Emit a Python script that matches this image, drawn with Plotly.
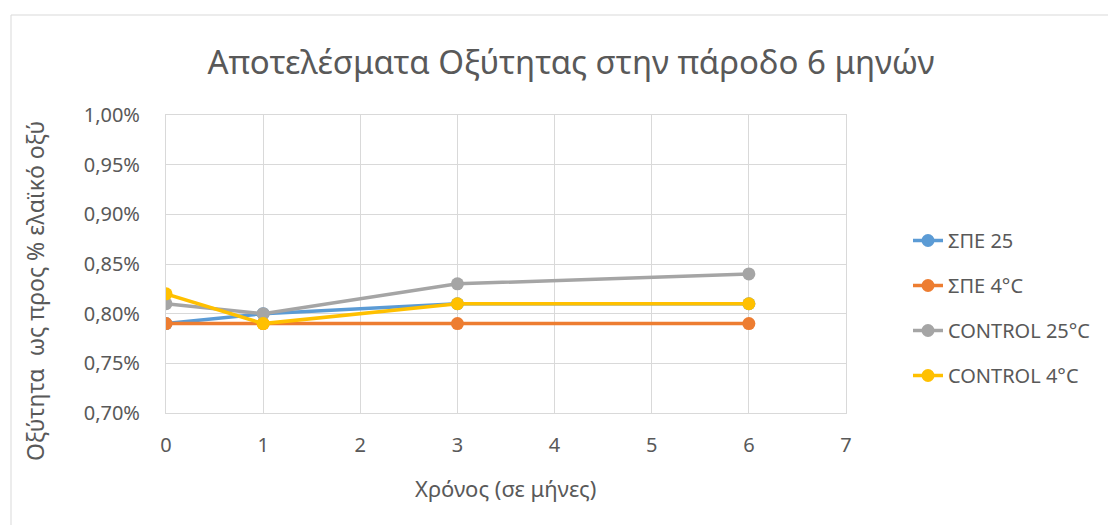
import plotly.graph_objects as go

# Acidity (% oleic acid) measured over six months of storage
months = [0, 1, 3, 6]
spe_25 = [0.79, 0.80, 0.81, 0.81]
spe_4c = [0.79, 0.79, 0.79, 0.79]
control_25c = [0.81, 0.80, 0.83, 0.84]
control_4c = [0.82, 0.79, 0.81, 0.81]

series_names = ["ΣΠΕ 25", "ΣΠΕ 4°C", "CONTROL 25°C", "CONTROL 4°C"]
series_values = [spe_25, spe_4c, control_25c, control_4c]
series_colors = ["#5B9BD5", "#ED7D31", "#A5A5A5", "#FFC000"]

x_ticks = [0, 1, 2, 3, 4, 5, 6, 7]
y_ticks = [0.70, 0.75, 0.80, 0.85, 0.90, 0.95, 1.00]
y_tick_text = ["0,70%", "0,75%", "0,80%", "0,85%", "0,90%", "0,95%", "1,00%"]

FONT = "Noto Sans"
TEXT = "#595959"
GRID = "#d9d9d9"

fig = go.Figure()
for i, (name, vals, col) in enumerate(zip(series_names, series_values, series_colors)):
    fig.add_trace(go.Scatter(
        x=months, y=vals, name=name, mode="lines+markers",
        line=dict(color=col, width=3.5),
        marker=dict(color=col, size=13),
        legendgroup=f"g{i}",
    ))

# plot area: x 166..846, y 115..413 in a 1108x525 canvas
L, R, T, B = 166, 1108 - 846, 115, 525 - 413
PW, PH = 846 - 166, 413 - 115

def px(xp):
    return (xp - L) / PW

def py(yp):
    return (413 - yp) / PH

fig.update_layout(
    width=1108, height=525,
    margin=dict(l=L, r=R, t=T, b=B, autoexpand=False),
    paper_bgcolor="white", plot_bgcolor="white",
    font=dict(family=FONT, color=TEXT, size=20),
    title=dict(
        text="Αποτελέσματα Οξύτητας στην πάροδο 6 μηνών",
        font=dict(family=FONT, size=33, color=TEXT),
        x=px(571), xanchor="center", xref="paper",
        y=1 - 62 / 525, yanchor="middle",
    ),
    xaxis=dict(
        range=[0, 7], tickvals=x_ticks, showgrid=True, gridcolor=GRID, gridwidth=1,
        zeroline=False, showline=True, linecolor=GRID, mirror=True,
        ticks="", ticklabelstandoff=14, tickfont=dict(size=20, color=TEXT),
    ),
    yaxis=dict(
        range=[0.70, 1.00], tickvals=y_ticks, ticktext=y_tick_text,
        showgrid=True, gridcolor=GRID, gridwidth=1,
        zeroline=False, showline=True, linecolor=GRID, mirror=True,
        ticks="", ticklabelstandoff=21, tickfont=dict(size=20, color=TEXT),
    ),
    legend=dict(
        x=px(908), xanchor="left", y=py(308), yanchor="middle",
        font=dict(size=20, color=TEXT), tracegroupgap=16,
        bgcolor="rgba(0,0,0,0)",
    ),
    annotations=[
        dict(text="Οξύτητα  ως προς % ελαϊκό οξύ", xref="paper", yref="paper",
             x=px(35), y=py(291), xanchor="center", yanchor="middle",
             textangle=-90, showarrow=False, font=dict(size=23, color=TEXT)),
        dict(text="Χρόνος (σε μήνες)", xref="paper", yref="paper",
             x=px(505), y=py(488), xanchor="center", yanchor="middle",
             showarrow=False, font=dict(size=22, color=TEXT)),
    ],
    shapes=[
        dict(type="rect", xref="paper", yref="paper",
             x0=px(11), x1=px(1120), y0=py(540), y1=py(15),
             line=dict(color=GRID, width=1), layer="below"),
    ],
)

fig.write_html("out.html")
